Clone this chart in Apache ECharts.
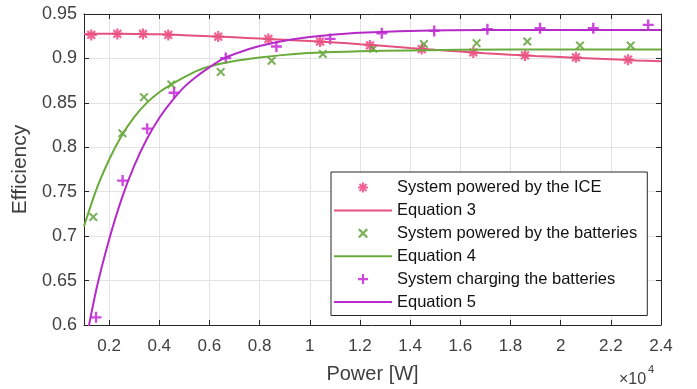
<!DOCTYPE html>
<html>
<head>
<meta charset="utf-8">
<script src="https://cdn.jsdelivr.net/npm/echarts@6/dist/echarts.min.js"></script>
<style>
  html, body { margin: 0; padding: 0; background: #fff; }
  #chart { width: 697px; height: 389px; }
</style>
</head>
<body>
<div id="chart"></div>
<script>
// measured points
const iceX = [1290, 2330, 3350, 4360, 6350, 8350, 10410, 12400, 14460, 16520, 18580, 20610, 22690];
const iceY = [0.9265, 0.9276, 0.9276, 0.9265, 0.9246, 0.922, 0.919, 0.9146, 0.9105, 0.9067, 0.9034, 0.9012, 0.8986];

const batX = [1370, 2530, 3390, 4480, 6450, 8480, 10520, 12530, 14550, 16650, 18670, 20770, 22790];
const batY = [0.7216, 0.8158, 0.8564, 0.8706, 0.8848, 0.8974, 0.905, 0.9109, 0.9161, 0.9172, 0.919, 0.9146, 0.9146];

const chgX = [1480, 2540, 3520, 4590, 6650, 8670, 10810, 12870, 14960, 17080, 19180, 21300, 23490];
const chgY = [0.6086, 0.7625, 0.821, 0.8613, 0.9004, 0.9134, 0.922, 0.9284, 0.931, 0.9329, 0.934, 0.934, 0.9377];

// fitted curves
const eq3X = [1000, 2000, 3000, 4000, 5000, 6000, 7000, 8000, 9000, 10000, 11000, 12000, 13000, 14000, 15000, 16000, 17000, 18000, 19000, 20000, 21000, 22000, 23000, 24000];
const eq3Y = [0.9275, 0.9277, 0.9276, 0.9272, 0.9262, 0.925, 0.9237, 0.9224, 0.921, 0.9196, 0.918, 0.916, 0.914, 0.9118, 0.9097, 0.9077, 0.9058, 0.9042, 0.9028, 0.9015, 0.9002, 0.899, 0.8978, 0.8967];

const eq4X = [1000, 1500, 2000, 2500, 3000, 3500, 4000, 4500, 5000, 5500, 6000, 7000, 8000, 9000, 10000, 12000, 14000, 18000, 24000];
const eq4Y = [0.711, 0.753, 0.786, 0.813, 0.834, 0.85, 0.862, 0.871, 0.879, 0.886, 0.891, 0.897, 0.901, 0.904, 0.906, 0.908, 0.909, 0.91, 0.91];

const eq5X = [1000, 1500, 2000, 2500, 3000, 3500, 4000, 4500, 5000, 5500, 6000, 6500, 7000, 8000, 9000, 10000, 11000, 12000, 14000, 17000, 20000, 24000];
const eq5Y = [0.57, 0.641, 0.696, 0.742, 0.779, 0.809, 0.833, 0.852, 0.868, 0.88, 0.89, 0.899, 0.905, 0.914, 0.92, 0.924, 0.927, 0.929, 0.931, 0.932, 0.932, 0.932];

const xTickValues = [2000, 4000, 6000, 8000, 10000, 12000, 14000, 16000, 18000, 20000, 22000, 24000];
const xTickLabels = ['0.2', '0.4', '0.6', '0.8', '1', '1.2', '1.4', '1.6', '1.8', '2', '2.2', '2.4'];
const yTickLabels = ['0.6', '0.65', '0.7', '0.75', '0.8', '0.85', '0.9', '0.95'];

const names = [
  'System powered by the ICE',
  'Equation 3',
  'System powered by the batteries',
  'Equation 4',
  'System charging the batteries',
  'Equation 5'
];

const FONT = '"Liberation Sans", Arial, Helvetica, sans-serif';
const AXIS = '#262626';
const LABEL = '#404040';

const zip = (xs, ys) => xs.map((x, i) => [x, ys[i]]);

// marker shapes
const starPath = 'path://M8,0H12V8H20V12H12V20H8V12H0V8H8Z M4.41,1.59L18.41,15.59L15.59,18.41L1.59,4.41Z M18.41,4.41L4.41,18.41L1.59,15.59L15.59,1.59Z';
const crossPath = 'path://M0,1.6L1.6,0L5,3.4L8.4,0L10,1.6L6.6,5L10,8.4L8.4,10L5,6.6L1.6,10L0,8.4L3.4,5Z';
const plusPath = 'path://M4.7,0H7.3V4.7H12V7.3H7.3V12H4.7V7.3H0V4.7H4.7Z';

const chart = echarts.init(document.getElementById('chart'));

const boxAxis = {
  axisLine: { show: true, onZero: false, lineStyle: { color: AXIS, width: 1 } },
  axisLabel: { show: false },
  splitLine: { show: false }
};

chart.setOption({
  animation: false,
  textStyle: { fontFamily: FONT },
  grid: { left: 84, right: 36, top: 14, bottom: 62 },
  xAxis: [
    {
      type: 'value',
      min: 1000,
      max: 24000,
      position: 'bottom',
      axisLine: { show: true, onZero: false, lineStyle: { color: AXIS, width: 1 } },
      axisTick: { show: true, inside: true, length: 5, customValues: xTickValues, lineStyle: { color: AXIS } },
      axisLabel: {
        customValues: xTickValues,
        formatter: v => xTickLabels[xTickValues.indexOf(v)],
        color: LABEL,
        fontSize: 17,
        margin: 13,
        fontFamily: FONT
      },
      splitLine: { show: true, lineStyle: { color: '#e3e3e3', width: 1 } },
      name: 'Power [W]',
      nameLocation: 'middle',
      nameGap: 39,
      nameTextStyle: { fontSize: 20, color: LABEL, fontFamily: FONT }
    },
    Object.assign({
      type: 'value', min: 1000, max: 24000, position: 'top',
      axisTick: { show: true, inside: true, length: 5, customValues: xTickValues, lineStyle: { color: AXIS } }
    }, boxAxis)
  ],
  yAxis: [
    {
      type: 'value',
      min: 0.6,
      max: 0.95,
      interval: 0.05,
      position: 'left',
      axisLine: { show: true, onZero: false, lineStyle: { color: AXIS, width: 1 } },
      axisTick: { show: true, inside: true, length: 5, lineStyle: { color: AXIS } },
      axisLabel: {
        formatter: v => yTickLabels[Math.round((v - 0.6) / 0.05)],
        color: LABEL,
        fontSize: 18,
        margin: 7,
        fontFamily: FONT
      },
      splitLine: { show: true, lineStyle: { color: '#e3e3e3', width: 1 } },
      name: 'Efficiency',
      nameLocation: 'middle',
      nameGap: 49,
      nameTextStyle: { fontSize: 21, color: LABEL, fontFamily: FONT }
    },
    Object.assign({
      type: 'value', min: 0.6, max: 0.95, interval: 0.05, position: 'right',
      axisTick: { show: true, inside: true, length: 5, lineStyle: { color: AXIS } }
    }, boxAxis)
  ],
  legend: {
    orient: 'vertical',
    left: 331,
    top: 172,
    itemWidth: 58,
    itemHeight: 10,
    itemGap: 5.9,
    padding: [7, 10, 5, 2],
    backgroundColor: '#fff',
    borderColor: AXIS,
    borderWidth: 1,
    selectedMode: false,
    textStyle: { fontSize: 16.5, lineHeight: 16, color: '#111', fontFamily: FONT },
    // line entries: no dot in the middle of the sample line
    data: names.map((n, i) => (i % 2 ? { name: n, itemStyle: { opacity: 0 } } : { name: n }))
  },
  graphic: [
    { type: 'text', left: 619, top: 372, style: { text: '×10', fontSize: 16, fill: LABEL, fontFamily: FONT } },
    { type: 'text', left: 648, top: 364, style: { text: '4', fontSize: 11, fill: LABEL, fontFamily: FONT } }
  ],
  series: [
    {
      name: names[0], type: 'scatter', symbol: starPath, symbolSize: 11,
      itemStyle: { color: '#ef3b7b' }, data: zip(iceX, iceY)
    },
    {
      name: names[1], type: 'line', symbol: 'none', smooth: 0.3,
      lineStyle: { color: '#e4527e', width: 2 }, itemStyle: { color: '#e4527e' },
      data: zip(eq3X, eq3Y)
    },
    {
      name: names[2], type: 'scatter', symbol: crossPath, symbolSize: 9,
      itemStyle: { color: '#5a9e32' }, data: zip(batX, batY)
    },
    {
      name: names[3], type: 'line', symbol: 'none', smooth: 0.3,
      lineStyle: { color: '#6aab3c', width: 2 }, itemStyle: { color: '#6aab3c' },
      data: zip(eq4X, eq4Y)
    },
    {
      name: names[4], type: 'scatter', symbol: plusPath, symbolSize: 11,
      itemStyle: { color: '#c21ad6' }, data: zip(chgX, chgY)
    },
    {
      name: names[5], type: 'line', symbol: 'none', smooth: 0.3,
      lineStyle: { color: '#b52bc7', width: 2 }, itemStyle: { color: '#b52bc7' },
      data: zip(eq5X, eq5Y)
    }
  ]
});
</script>
</body>
</html>
